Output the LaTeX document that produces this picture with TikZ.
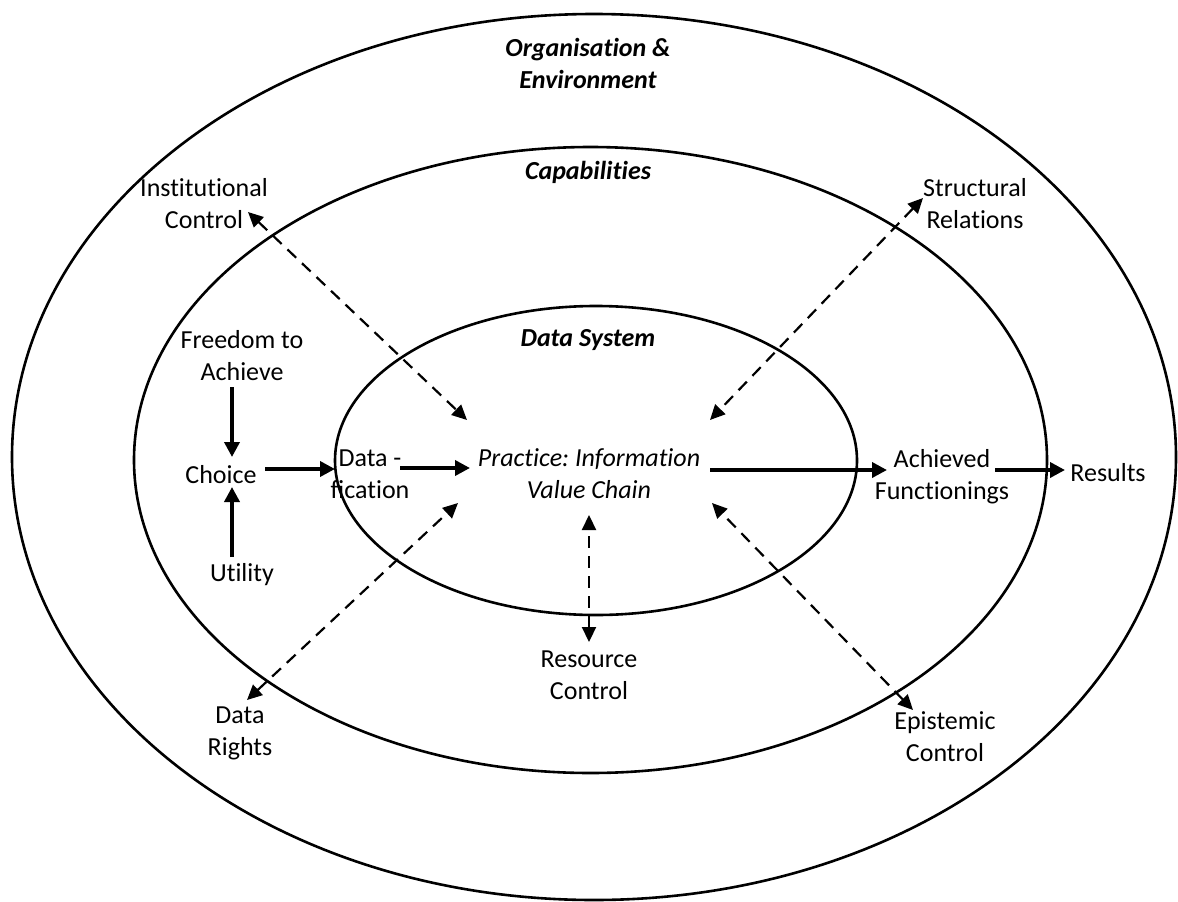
\documentclass[tikz,border=0pt]{standalone}
\usepackage{fontspec}
\setmainfont{Carlito}[Ligatures=NoCommon]
\usetikzlibrary{arrows.meta}
\frenchspacing
\begin{document}
\begin{tikzpicture}[x=1pt,y=-1pt,
  ring/.style={line width=2.6pt},
  lbl/.style={align=center,inner sep=0pt,font=\fontsize{26}{32}\selectfont},
  ttl/.style={align=center,inner sep=0pt,font=\fontsize{26}{32}\selectfont\bfseries\itshape},
  prac/.style={align=center,inner sep=0pt,font=\fontsize{26}{32}\selectfont\itshape},
  solidarr/.style={line width=3.6pt,-{Triangle[length=15pt,width=15pt]}},
  dasharr/.style={line width=2.2pt,dash pattern=on 12pt off 8pt,{Triangle[length=15pt,width=14pt]}-{Triangle[length=15pt,width=14pt]}}]
\useasboundingbox (0,0) rectangle (1178,902);
\fill[white] (0,0) rectangle (1178,902);
% rings
\draw[ring] (594,457) ellipse [x radius=582pt, y radius=443pt];
\draw[ring] (590.5,460) ellipse [x radius=456.5pt, y radius=313pt];
\draw[ring] (596,460.5) ellipse [x radius=261pt, y radius=154.5pt];
% titles
\node[ttl] (org) at (588,63) {Organisation \&\\Environment};
\node[ttl] (cap) at (588,172) {Capabilities};
\node[ttl] (ds) at (588,340) {Data System};
% labels
\node[lbl] (inst) at (204,204) {Institutional\\Control};
\node[lbl] (struct) at (975,204) {Structural\\Relations};
\node[lbl] (free) at (242,356) {Freedom to\\Achieve};
\node[lbl] (choice) at (221,475) {Choice};
\node[lbl] (util) at (242,575) {Utility};
\node[lbl] (data) at (370,474) {Data -\\ﬁcation};
\node[prac] (practice) at (589,474) {Practice: Information\\Value Chain};
\node[lbl] (res) at (589,675) {Resource\\Control};
\node[lbl] (rights) at (240,733) {Data\\Rights};
\node[lbl] (epi) at (945,737) {Epistemic\\Control};
\node[lbl] (ach) at (942,477) {Achieved\\Functionings};
\node[lbl] (results) at (1108,473) {Results};
% solid arrows
\draw[solidarr] ([shift={(-10,31)}]free.center) -- ([shift={(11,-18)}]choice.center);
\draw[solidarr] ([shift={(-10,-18)}]util.center) -- ([shift={(11,12)}]choice.center);
\draw[solidarr] ([shift={(44,-6)}]choice.center) -- ([shift={(-35,-5)}]data.center);
\draw[solidarr] ([shift={(30,-6)}]data.center) -- ([shift={(-119,-6)}]practice.center);
\draw[solidarr] ([shift={(121,-4)}]practice.center) -- ([shift={(-55,-7)}]ach.center);
\draw[solidarr] ([shift={(53,-7)}]ach.center) -- ([shift={(-43,-3)}]results.center);
% dashed double arrows
\draw[dasharr] ([shift={(44,8)}]inst.center) -- ([shift={(-122,-54)}]practice.center);
\draw[dasharr] ([shift={(-52,-6)}]struct.center) -- ([shift={(121,-54)}]practice.center);
\draw[dasharr] ([shift={(7,-33)}]rights.center) -- ([shift={(-131,29)}]practice.center);
\draw[dasharr] ([shift={(-32,-27)}]epi.center) -- ([shift={(123,29)}]practice.center);
\draw[dasharr] ([shift={(0,-33)}]res.center) -- ([shift={(0,41)}]practice.center);
\end{tikzpicture}
\end{document}
